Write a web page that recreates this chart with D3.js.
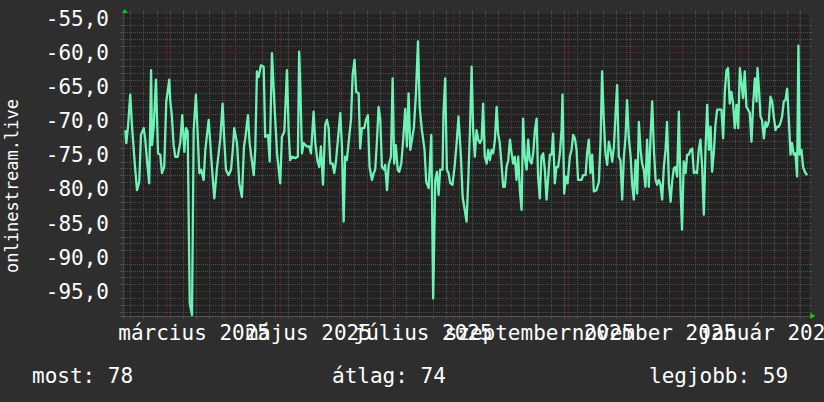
<!DOCTYPE html>
<html><head><meta charset="utf-8">
<script src="https://cdn.jsdelivr.net/npm/d3@7"></script>
<style>html,body{margin:0;padding:0;background:#2e2e2e;}svg{display:block}</style>
</head><body>
<script>
// ---------- data ----------
const seriesName = "onlinestream.live";
const startDate = "2025-02-06T06:00:00Z";
const endDate = "2026-02-06T18:00:00Z";
// time of each reading, in days after startDate
const dayOffsets = [
1.1,1.6,2.5,3.7,4.6,6.1,7.3,8.5,9.4,10.9,11.7,12.6,13.8,14.8,15.3,16.2,17.4,18.5,19.7,20.6,21.8,22.9,24.5,25.0,25.9,26.8,27.7,29.0,30.4,31.4,32.5,33.4,34.3,35.4,36.6,37.5,38.7,39.8,40.5,41.5,42.8,43.7,44.6,45.5,46.3,47.2,48.5,49.9,51.7,52.9,53.8,54.7,56.1,57.4,58.4,59.1,60.6,61.8,63.2,64.3,65.0,66.4,67.3,69.5,70.3,71.2,72.1,73.3,74.8,75.6,77.1,78.0,79.2,80.6,81.9,83.6,84.5,85.8,87.2,88.1,88.9,
89.9,91.6,93.0,93.7,94.3,95.2,96.1,97.8,99.1,100.0,101.4,102.3,103.5,104.4,105.3,106.4,107.6,108.5,109.4,110.3,111.5,112.4,113.3,114.4,115.6,116.5,117.4,118.2,119.1,120.1,121.3,122.2,123.2,124.1,125.4,126.2,127.1,128.4,129.3,130.3,131.2,132.5,133.4,134.2,135.1,136.0,136.9,137.8,139.0,139.5,140.5,141.4,142.6,143.5,144.3,145.2,146.2,147.0,148.1,149.0,150.2,151.1,152.0,152.9,153.8,154.8,155.9,157.0,157.9,159.1,160.5,161.4,162.7,164.1,165.1,166.2,167.1,168.0,168.8,170.1,170.6,171.5,172.4,173.3,174.2,175.4,176.5,177.6,178.6,179.9,180.8,
182.9,183.8,184.7,185.6,186.4,187.3,188.2,189.1,190.0,190.9,191.7,192.6,193.6,194.4,195.3,196.2,197.1,198.0,198.9,199.7,200.6,201.5,202.4,203.3,204.2,205.1,206.0,206.9,207.7,208.6,209.5,210.4,211.3,212.2,213.0,213.9,214.9,215.7,216.6,217.5,218.4,219.3,220.2,221.0,221.9,222.8,223.7,224.6,225.5,226.4,227.3,228.2,229.0,229.9,230.8,231.7,232.6,233.5,234.0,234.9,235.8,236.7,
237.9,238.8,239.7,240.6,241.5,242.3,244.2,245.0,246.3,247.1,248.0,248.9,249.8,250.7,252.1,253.4,254.3,255.1,256.0,256.9,257.8,258.7,259.6,260.5,261.4,262.3,263.1,264.0,264.9,265.8,266.7,267.6,268.4,269.3,270.3,271.1,272.0,272.9,273.8,274.7,275.6,276.4,277.3,278.2,279.1,280.0,280.9,281.8,282.7,283.6,284.4,285.3,286.2,287.1,288.0,288.9,289.7,290.7,291.6,292.4,293.3,294.2,295.1,296.0,296.9,297.7,298.6,299.6,300.4,301.3,302.2,303.1,304.0,304.9,305.7,306.6,307.5,308.4,309.3,310.2,311.1,312.0,312.9,313.7,314.6,315.5,316.4,317.8,318.7,319.6,320.5,321.4,322.2,323.1,324.0,324.9,325.8,326.7,327.6,328.5,329.4,330.2,331.1,332.0,332.9,333.8,334.7,335.6,336.5,337.4,337.9,338.7,339.5,340.3,341.3,342.2,343.0,343.9,344.8,345.7,346.6,347.5,348.3,349.2,350.1,351.0,351.9,352.8,353.7,354.6,355.5,356.3,357.2,358.1,359.0,359.7,360.4,361.3,362.2,363.1,364.3
];
const values = [
-71.4,-73.3,-70.9,-66.2,-70.6,-76.3,-80.2,-79.0,-72.1,-71.1,-72.8,-75.8,-79.2,-62.6,-73.6,-70.9,-64.0,-74.8,-75.0,-77.7,-76.8,-67.2,-64.0,-67.0,-69.4,-73.6,-75.3,-75.3,-73.1,-69.2,-74.6,-71.1,-71.6,-96.8,-98.5,-71.4,-66.2,-73.1,-77.7,-77.2,-78.7,-74.3,-72.1,-69.9,-73.1,-76.8,-81.4,-77.0,-72.6,-67.5,-72.8,-77.2,-78.0,-77.2,-74.1,-71.1,-73.3,-79.2,-81.2,-73.8,-72.6,-69.2,-73.3,-78.0,-74.3,-62.8,-63.6,-61.9,-62.1,-72.4,-72.1,-76.0,-60.1,-68.0,-74.8,-79.2,-72.4,-71.6,-62.6,-71.6,-75.8,
-75.3,-75.5,-75.3,-59.9,-65.0,-74.8,-73.3,-73.8,-73.8,-74.8,-68.7,-73.3,-76.0,-76.8,-73.8,-79.4,-70.6,-69.9,-71.1,-76.3,-76.3,-77.7,-76.0,-72.6,-68.9,-73.8,-84.8,-75.3,-75.8,-73.1,-69.9,-63.3,-61.1,-65.8,-66.0,-74.1,-71.1,-71.1,-69.9,-69.2,-76.8,-78.7,-77.7,-77.2,-73.3,-68.0,-69.7,-76.8,-77.2,-76.5,-80.2,-76.5,-75.3,-63.8,-76.3,-73.6,-77.2,-77.5,-76.3,-73.3,-68.3,-73.8,-66.0,-74.3,-72.8,-71.1,-66.2,-58.4,-68.0,-71.4,-74.3,-79.0,-79.9,-72.1,-96.1,-78.7,-77.5,-80.9,-77.2,-77.2,-68.9,-63.8,-77.2,-77.7,-79.2,-79.4,-76.8,-73.3,-69.4,-75.3,-81.2,
-84.8,-78.7,-71.4,-62.1,-71.4,-75.3,-71.4,-72.8,-73.3,-72.8,-67.5,-75.3,-76.3,-74.3,-75.8,-74.3,-74.8,-72.8,-68.0,-71.9,-73.3,-76.3,-79.7,-79.7,-76.8,-75.8,-72.8,-74.8,-76.3,-75.3,-78.7,-75.3,-80.2,-83.1,-69.7,-75.3,-77.2,-72.8,-75.8,-76.3,-74.8,-71.4,-69.7,-78.2,-81.4,-75.3,-74.8,-77.2,-81.6,-78.2,-75.0,-75.0,-71.9,-79.2,-76.8,-76.8,-74.8,-71.4,-66.2,-80.7,-78.2,-79.2,
-75.3,-74.3,-72.1,-72.6,-74.3,-78.7,-78.7,-78.0,-78.0,-74.8,-72.8,-77.7,-75.0,-80.4,-80.2,-79.0,-72.8,-62.8,-69.9,-74.8,-76.5,-73.1,-74.3,-76.0,-73.8,-68.9,-64.8,-75.3,-75.8,-81.6,-75.3,-72.4,-67.0,-72.4,-75.3,-79.2,-81.6,-75.8,-80.7,-70.2,-74.3,-76.3,-77.2,-79.7,-72.8,-79.7,-72.4,-67.2,-74.3,-78.7,-79.4,-78.7,-79.4,-81.6,-76.8,-74.3,-70.2,-79.2,-81.9,-79.0,-77.0,-76.8,-78.2,-68.7,-80.2,-86.0,-76.0,-77.7,-75.0,-75.0,-74.3,-74.1,-77.7,-77.5,-77.7,-74.3,-72.8,-76.8,-83.8,-74.3,-67.7,-74.3,-70.9,-77.5,-74.8,-70.6,-68.4,-68.4,-68.4,-72.6,-65.8,-62.6,-62.3,-67.5,-65.8,-67.5,-71.1,-67.7,-71.1,-62.3,-64.5,-66.7,-62.8,-68.0,-68.4,-68.9,-73.1,-67.5,-63.8,-67.2,-62.3,-65.5,-69.4,-69.9,-72.6,-70.2,-70.9,-70.2,-66.5,-67.2,-69.4,-71.4,-70.9,-70.9,-70.4,-69.4,-67.2,-67.0,-65.3,-69.9,-75.0,-73.3,-75.0,-74.8,-78.2,-59.0,-75.0,-74.3,-76.8,-77.5,-78.0
];
const yDomain = [-98.65, -54.37];
const yTicks = [-55, -60, -65, -70, -75, -80, -85, -90, -95];
const yTickLabels = ["-55,0", "-60,0", "-65,0", "-70,0", "-75,0", "-80,0", "-85,0", "-90,0", "-95,0"];
const labelMonths = ["2025-03-01", "2025-05-01", "2025-07-01", "2025-09-01", "2025-11-01", "2026-01-01"];
const monthLabels = ["március 2025", "május 2025", "július 2025", "szeptember 2025", "november 2025", "január 2026"];
const legendLabels = ["most", "átlag", "legjobb"];
const legendValues = [78, 74, 59];

// ---------- layout ----------
const W = 824, H = 402;
const X0 = 123.3, X1 = 809.3, YT = 14, YB = 316;
const FONT = "'DejaVu Sans Mono', monospace";
const bg = "#2e2e2e", canvasCol = "#222222", lineCol = "#6ff2b6";
const minorCol = "#4f4f4f", majorCol = "#5c3030";

const svg = d3.select("body").append("svg").attr("width", W).attr("height", H);
svg.append("rect").attr("width", W).attr("height", H).attr("fill", bg);

const t0 = new Date(startDate), t1 = new Date(endDate);
const x = d3.scaleUtc().domain([t0, t1]).range([X0, X1]);
const y = d3.scaleLinear().domain(yDomain).range([YB, YT]);

svg.append("rect").attr("x", X0).attr("y", YT).attr("width", X1 - X0).attr("height", YB - YT).attr("fill", canvasCol);

const px = v => Math.round(v) + 0.5;
const g = svg.append("g").attr("shape-rendering", "crispEdges");

const minorH = d3.range(Math.ceil(yDomain[0]), Math.floor(yDomain[1]) + 1).filter(v => v % 5 !== 0);
function hline(v, col) {
  const yy = px(y(v));
  g.append("line").attr("x1", X0).attr("x2", X1).attr("y1", yy).attr("y2", yy)
    .attr("stroke", col).attr("stroke-width", 1).attr("stroke-dasharray", "1,1");
  g.append("line").attr("x1", X0 - 3).attr("x2", X0).attr("y1", yy).attr("y2", yy).attr("stroke", col);
  g.append("line").attr("x1", X1).attr("x2", X1 + 3).attr("y1", yy).attr("y2", yy).attr("stroke", col);
}
function vline(t, col) {
  const xx = px(x(t));
  g.append("line").attr("x1", xx).attr("x2", xx).attr("y1", YT).attr("y2", YB)
    .attr("stroke", col).attr("stroke-width", 1).attr("stroke-dasharray", "1,1");
  g.append("line").attr("x1", xx).attr("x2", xx).attr("y1", YT - 3).attr("y2", YT).attr("stroke", col);
  g.append("line").attr("x1", xx).attr("x2", xx).attr("y1", YB).attr("y2", YB + 3).attr("stroke", col);
}
minorH.forEach(v => hline(v, minorCol));
d3.utcMonday.range(t0, t1).forEach(t => vline(t, minorCol));
yTicks.forEach(v => hline(v, majorCol));
d3.utcMonth.range(t0, t1).forEach(t => vline(t, majorCol));

// axes lines
svg.append("line").attr("x1", X0 - 3).attr("x2", X1 + 3).attr("y1", YB + 0.5).attr("y2", YB + 0.5).attr("stroke", "#555555");
svg.append("line").attr("x1", X0 + 0.5).attr("x2", X0 + 0.5).attr("y1", YT - 3).attr("y2", YB + 3).attr("stroke", "#555555");
// arrows
svg.append("path").attr("d", `M${X0 - 1.5},${YT - 1} L${X0 + 1.5},${YT - 5} L${X0 + 4.5},${YT - 1} Z`).attr("fill", "#11cc11");
svg.append("path").attr("d", `M${X1 + 1},${YB - 3} L${X1 + 6},${YB} L${X1 + 1},${YB + 3} Z`).attr("fill", "#11cc11");

// data line
const pts = dayOffsets.map((d, i) => ({ t: new Date(t0.getTime() + d * 864e5), v: values[i] }));
const line = d3.line().x(d => x(d.t)).y(d => y(d.v));
svg.append("path").datum(pts).attr("d", line).attr("fill", "none")
  .attr("stroke", lineCol).attr("stroke-width", 2.3).attr("stroke-linejoin", "round");

// y tick labels
svg.append("g").selectAll("text").data(yTicks).join("text")
  .attr("x", 109).attr("y", d => y(d) + 7.6).attr("text-anchor", "end")
  .attr("font-family", FONT).attr("font-size", 21).attr("fill", "#ffffff")
  .text((d, i) => yTickLabels[i]);

// x labels, centred half a month after the label month start
svg.append("g").selectAll("text").data(labelMonths).join("text")
  .attr("x", d => x(d3.utcDay.offset(new Date(d + "T00:00:00Z"), 15)))
  .attr("y", 339.5).attr("text-anchor", "middle")
  .attr("font-family", FONT).attr("font-size", 21).attr("fill", "#ffffff")
  .text((d, i) => monthLabels[i]);

// y-axis title
svg.append("text").attr("transform", "translate(18.3,186) rotate(-90)")
  .attr("text-anchor", "middle").attr("font-family", FONT).attr("font-size", 17)
  .attr("fill", "#ffffff").text(seriesName);

// legend
const legendX = [32, 332, 649];
svg.append("g").selectAll("text").data(legendLabels).join("text")
  .attr("x", (d, i) => legendX[i]).attr("y", 383)
  .attr("font-family", FONT).attr("font-size", 21).attr("fill", "#ffffff")
  .text((d, i) => `${d}: ${legendValues[i]}`);
</script>
</body></html>
